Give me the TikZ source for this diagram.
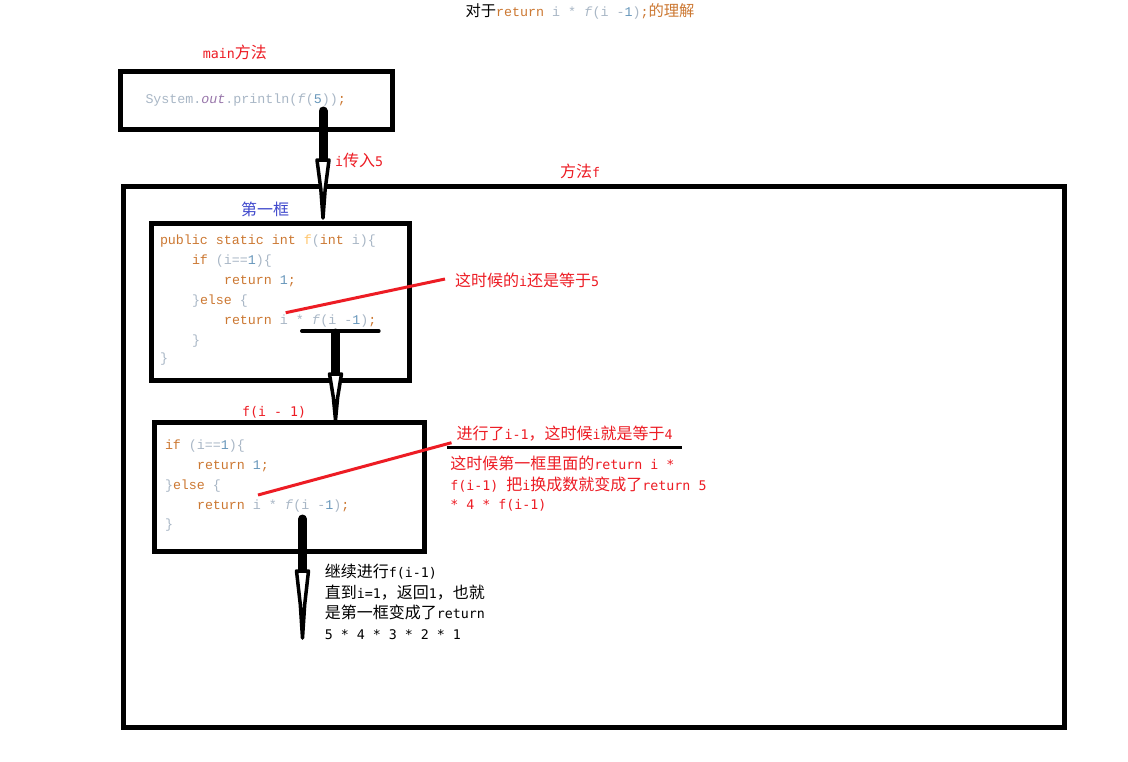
\documentclass[tikz,border=0pt]{standalone}
\usepackage{fontspec}
\setmainfont{Liberation Mono}[WordSpace={1,0,0}]
\newfontfamily\annmono{DejaVu Sans Mono}[WordSpace={1,0,0}]
\newfontfamily\cjkfont{Noto Sans CJK SC}
\definecolor{kw}{HTML}{CC7832}
\definecolor{pl}{HTML}{A9B7C6}
\definecolor{nm}{HTML}{6897BB}
\definecolor{fd}{HTML}{FFC66D}
\definecolor{st}{HTML}{9876AA}
\definecolor{pred}{HTML}{ED1C24}
\definecolor{pblue}{HTML}{3F48CC}
\newcommand\zh[1]{{\cjkfont\fontsize{16}{19}\selectfont #1}}
\newcommand\zhs[1]{{\cjkfont\fontsize{15.3}{18}\selectfont #1}}
\newcommand\kw[1]{\textcolor{kw}{#1}}
\newcommand\pl[1]{\textcolor{pl}{#1}}
\newcommand\nm[1]{\textcolor{nm}{#1}}
\newcommand\arrhead[2]{\filldraw[headshape] (#1) +(-6,0) -- +(6,0) -- +(2.2,#2*0.5) -- +(0,#2) -- +(-2.2,#2*0.5) -- cycle;}
\begin{document}
\begin{tikzpicture}[x=1pt,y=-1pt,
  txt/.style={anchor=west, inner sep=0pt, outer sep=0pt, text height=12pt, text depth=3pt, font=\fontsize{13.33}{16}\selectfont},
  ann/.style={txt, text=pred, font=\annmono\fontsize{13.3}{16}\selectfont},
  blk/.style={txt, font=\annmono\fontsize{13.3}{16}\selectfont},
  box/.style={draw, line width=5pt, anchor=north west, inner sep=0pt, outer sep=0pt},
  shaft/.style={line width=9pt, line cap=round},
  headshape/.style={draw=black, fill=white, line width=3.5pt, line join=round},
  redline/.style={draw=pred, line width=3pt},
  bar/.style={line width=3pt}]
\useasboundingbox (0,0) rectangle (1128,761);
\fill[white] (0,0) rectangle (1128,761);

% title
\node[txt] (title) at (465.6,11.7) {\zhs{对于}\kw{return} \pl{i * \textit{f}(i -}\nm{1}\pl{)}\kw{;}\textcolor{kw}{\zhs{的理解}}};

% main box
\node[box, minimum width=271.5pt, minimum height=57.3pt] (mainbox) at (120.5,71.7) {};
\node[ann] (mainlbl) at (202.8,54.3) {main\zh{方法}};
\node[txt] (maincode) at (145.5,99) {\pl{System.}\textcolor{st}{\textit{out}}\pl{.println(\textit{f}(}\nm{5}\pl{))}\kw{;}};

% big box
\node[box, minimum width=941.5pt, minimum height=541.5pt] (bigbox) at (123,186) {};
\node[ann] (flbl) at (560,173) {\zh{方法}f};

% box 1
\node[box, minimum width=257.5pt, minimum height=157pt] (box1) at (151.5,223.5) {};
\node[txt, text=pblue] (b1lbl) at (241,211) {\zh{第一框}};
\node[txt] (c11) at (160,240) {\kw{public static int} \textcolor{fd}{f}\pl{(}\kw{int} \pl{i)\{}};
\node[txt] (c12) at (192,259.5) {\kw{if} \pl{(i==}\nm{1}\pl{)\{}};
\node[txt] (c13) at (224,280) {\kw{return} \nm{1}\kw{;}};
\node[txt] (c14) at (192,300) {\pl{\}}\kw{else} \pl{\{}};
\node[txt] (c15) at (224,320) {\kw{return} \pl{i * \textit{f}(i -}\nm{1}\pl{)}\kw{;}};
\node[txt] (c16) at (192,339.5) {\pl{\}}};
\node[txt] (c17) at (160,358) {\pl{\}}};

% box 2
\node[box, minimum width=270.2pt, minimum height=128.5pt] (box2) at (154.5,422.5) {};
\node[ann] (b2lbl) at (242,412) {f(i - 1)};
\node[txt] (c21) at (165,445) {\kw{if} \pl{(i==}\nm{1}\pl{)\{}};
\node[txt] (c22) at (197,465) {\kw{return} \nm{1}\kw{;}};
\node[txt] (c23) at (165,485) {\pl{\}}\kw{else} \pl{\{}};
\node[txt] (c24) at (197,505) {\kw{return} \pl{i * \textit{f}(i -}\nm{1}\pl{)}\kw{;}};
\node[txt] (c25) at (165,523.5) {\pl{\}}};

% annotations
\node[ann] (pass) at (335,162) {i\zh{传入}5};
\node[ann] (note1) at (455,281.7) {\zh{这时候的}i\zh{还是等于}5};
\node[ann] (note2) at (456.7,435) {\zh{进行了}i-1\zh{，这时候}i\zh{就是等于}4};
\node[ann] (note3a) at (450.4,465) {\zh{这时候第一框里面的}return i *};
\node[ann] (note3b) at (450.4,485.5) {f(i-1) \zh{把}i\zh{换成数就变成了}return 5};
\node[ann] (note3c) at (450.4,505) {* 4 * f(i-1)};
\node[blk] (note4a) at (324.8,573.3) {\zh{继续进行}f(i-1)};
\node[blk] (note4b) at (324.8,594) {\zh{直到}i=1\zh{，返回}1\zh{，也就}};
\node[blk] (note4c) at (324.8,614) {\zh{是第一框变成了}return};
\node[blk] (note4d) at (324.8,635) {5 * 4 * 3 * 2 * 1};

% connector coordinates
\coordinate (a1s) at (323,111);
\coordinate (a1h) at (323,160);
\coordinate (a2s) at (335.5,333);
\coordinate (a2h) at (335.5,374);
\coordinate (a3s) at (302.5,519);
\coordinate (a3h) at (302.5,571);
\coordinate (r1s) at (285.7,312.7);
\coordinate (r1e) at (445,279);
\coordinate (r2s) at (258,495);
\coordinate (r2e) at (451.5,442.7);
\coordinate (uls) at (446.7,447.3);
\coordinate (ule) at (681.6,447.3);
\coordinate (tbl) at (302,331);
\coordinate (tbr) at (378.7,331);

% red pointer lines and underline
\draw[redline] (r1s) -- (r1e);
\draw[redline] (r2s) -- (r2e);
\draw[bar] (uls) -- (ule);
\draw[line width=4pt, line cap=round] (tbl) -- (tbr);

% thick arrows
\draw[shaft] (a1s) -- (a1h);
\draw[shaft] (a2s) -- (a2h);
\draw[shaft] (a3s) -- (a3h);
\arrhead{a1h}{58}
\arrhead{a2h}{46}
\arrhead{a3h}{67}
\end{tikzpicture}
\end{document}
